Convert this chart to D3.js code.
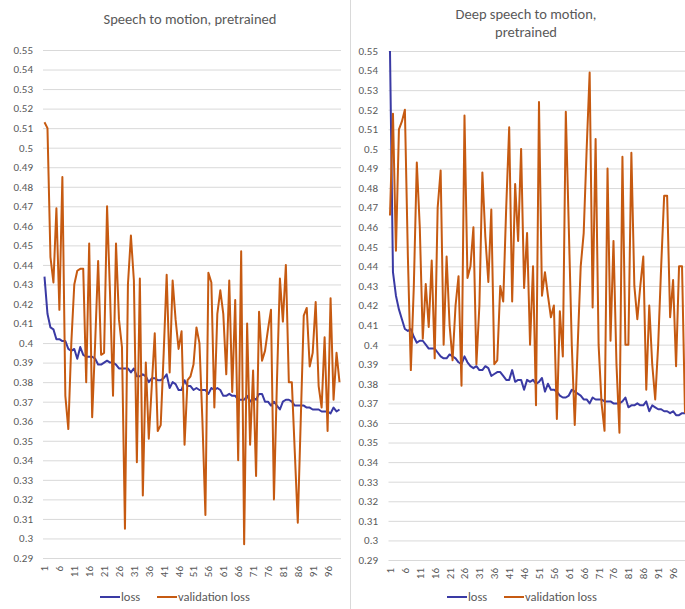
<!DOCTYPE html>
<html>
<head>
<meta charset="utf-8">
<script src="https://cdn.jsdelivr.net/npm/d3@7"></script>
<style>
  body { margin: 0; background: #fff; }
  svg { display: block; font-family: Calibri, Lato, "Open Sans", sans-serif; }
  .grid line { stroke: #d9d9d9; stroke-width: 1; }
  .tick-label { fill: #595959; font-size: 11px; }
  .title { fill: #595959; font-size: 14.5px; }
  .legend text { fill: #595959; font-size: 12.5px; }
</style>
</head>
<body>
<div id="chart"></div>
<script>
'use strict';

// epochs on the category axis
const epochs = d3.range(1, 101);
const xTickLabels = [1, 6, 11, 16, 21, 26, 31, 36, 41, 46, 51, 56, 61, 66, 71, 76, 81, 86, 91, 96];
const yTicks = [0.29, 0.3, 0.31, 0.32, 0.33, 0.34, 0.35, 0.36, 0.37, 0.38, 0.39, 0.4, 0.41,
  0.42, 0.43, 0.44, 0.45, 0.46, 0.47, 0.48, 0.49, 0.5, 0.51, 0.52, 0.53, 0.54, 0.55];

const seriesNames = ['loss', 'validation loss'];
const colors = ['#3a3aa4', '#c65a11'];

// Speech to motion, pretrained
const lossA = [
  0.434, 0.415, 0.408, 0.407, 0.402, 0.402, 0.401, 0.401, 0.397, 0.396,
  0.397, 0.392, 0.398, 0.394, 0.393, 0.393, 0.393, 0.392, 0.389, 0.389,
  0.390, 0.391, 0.390, 0.390, 0.389, 0.387, 0.387, 0.387, 0.387, 0.385,
  0.387, 0.383, 0.383, 0.384, 0.383, 0.380, 0.382, 0.382, 0.381, 0.381,
  0.382, 0.384, 0.377, 0.380, 0.379, 0.376, 0.376, 0.381, 0.378, 0.378,
  0.376, 0.377, 0.376, 0.376, 0.376, 0.374, 0.377, 0.376, 0.377, 0.376,
  0.373, 0.373, 0.374, 0.373, 0.373, 0.371, 0.371, 0.371, 0.373, 0.370,
  0.372, 0.371, 0.374, 0.374, 0.370, 0.370, 0.368, 0.370, 0.368, 0.366,
  0.370, 0.371, 0.371, 0.370, 0.368, 0.368, 0.368, 0.368, 0.367, 0.367,
  0.366, 0.366, 0.366, 0.365, 0.365, 0.365, 0.364, 0.367, 0.365, 0.366
];
const valA = [
  0.513, 0.510, 0.444, 0.431, 0.469, 0.417, 0.485, 0.373, 0.356, 0.400,
  0.430, 0.437, 0.438, 0.438, 0.380, 0.451, 0.362, 0.400, 0.442, 0.394,
  0.395, 0.470, 0.425, 0.373, 0.451, 0.412, 0.398, 0.305, 0.430, 0.455,
  0.432, 0.339, 0.433, 0.322, 0.390, 0.351, 0.378, 0.405, 0.355, 0.358,
  0.395, 0.435, 0.385, 0.432, 0.412, 0.397, 0.406, 0.348, 0.381, 0.383,
  0.389, 0.408, 0.400, 0.360, 0.312, 0.436, 0.431, 0.367, 0.415, 0.427,
  0.415, 0.384, 0.432, 0.375, 0.422, 0.340, 0.447, 0.297, 0.410, 0.348,
  0.386, 0.332, 0.416, 0.391, 0.396, 0.407, 0.417, 0.320, 0.380, 0.433,
  0.411, 0.440, 0.380, 0.380, 0.344, 0.308, 0.361, 0.414, 0.418, 0.388,
  0.395, 0.421, 0.378, 0.367, 0.403, 0.355, 0.423, 0.371, 0.395, 0.380
];

// Deep speech to motion, pretrained
const lossB = [
  0.550, 0.437, 0.425, 0.418, 0.413, 0.408, 0.407, 0.408, 0.404, 0.401,
  0.402, 0.402, 0.400, 0.398, 0.398, 0.398, 0.396, 0.394, 0.393, 0.393,
  0.395, 0.394, 0.393, 0.391, 0.390, 0.394, 0.391, 0.389, 0.388, 0.389,
  0.387, 0.387, 0.389, 0.388, 0.384, 0.385, 0.386, 0.386, 0.384, 0.382,
  0.382, 0.387, 0.381, 0.382, 0.382, 0.377, 0.382, 0.381, 0.382, 0.380,
  0.381, 0.383, 0.376, 0.380, 0.377, 0.377, 0.376, 0.374, 0.373, 0.373,
  0.374, 0.377, 0.376, 0.375, 0.374, 0.372, 0.372, 0.370, 0.373, 0.372,
  0.372, 0.372, 0.371, 0.371, 0.371, 0.370, 0.370, 0.370, 0.371, 0.373,
  0.368, 0.369, 0.369, 0.370, 0.369, 0.369, 0.371, 0.366, 0.369, 0.368,
  0.367, 0.367, 0.366, 0.366, 0.365, 0.366, 0.364, 0.364, 0.365, 0.365
];
const valB = [
  0.466, 0.518, 0.448, 0.510, 0.514, 0.520, 0.445, 0.387, 0.430, 0.493,
  0.460, 0.403, 0.431, 0.409, 0.443, 0.393, 0.470, 0.489, 0.400, 0.445,
  0.410, 0.392, 0.420, 0.435, 0.379, 0.517, 0.434, 0.440, 0.460, 0.390,
  0.420, 0.488, 0.455, 0.432, 0.469, 0.390, 0.392, 0.430, 0.422, 0.470,
  0.511, 0.422, 0.482, 0.453, 0.500, 0.429, 0.457, 0.400, 0.440, 0.369,
  0.524, 0.425, 0.437, 0.425, 0.414, 0.420, 0.362, 0.417, 0.394, 0.519,
  0.460, 0.400, 0.359, 0.400, 0.440, 0.457, 0.500, 0.539, 0.419, 0.505,
  0.400, 0.370, 0.356, 0.490, 0.402, 0.453, 0.390, 0.355, 0.496, 0.400,
  0.400, 0.498, 0.430, 0.413, 0.430, 0.445, 0.377, 0.420, 0.390, 0.372,
  0.400, 0.440, 0.476, 0.476, 0.414, 0.433, 0.389, 0.440, 0.440, 0.365
];

const panels = [
  { title: ['Speech to motion, pretrained'], titleX: 190, titleY: [24],
    left: 43, right: 341, top: 50, bottom: 558, labelX: 33, legendX: 100,
    series: [lossA, valA] },
  { title: ['Deep speech to motion,', 'pretrained'], titleX: 526, titleY: [19, 37],
    left: 388.5, right: 686.5, top: 51, bottom: 560, labelX: 378, legendX: 447,
    series: [lossB, valB] }
];

const width = 685, height = 609;

const svg = d3.select('#chart').append('svg')
  .attr('width', width)
  .attr('height', height);

// divider between the two charts
svg.append('line')
  .attr('x1', 350.5).attr('x2', 350.5)
  .attr('y1', 0).attr('y2', height)
  .attr('stroke', '#d9d9d9');

panels.forEach(function(p) {
  const g = svg.append('g');

  const x = d3.scalePoint().domain(epochs).range([p.left, p.right]).padding(0.5);
  const y = d3.scaleLinear().domain([0.29, 0.55]).range([p.bottom, p.top]);

  // title
  p.title.forEach((t, i) => {
    g.append('text').attr('class', 'title')
      .attr('x', p.titleX).attr('y', p.titleY[i])
      .attr('text-anchor', 'middle')
      .text(t);
  });

  // gridlines
  const yAxis = d3.axisLeft(y).tickValues(yTicks).tickSize(-(p.right - p.left)).tickFormat('');
  g.append('g')
    .attr('class', 'grid')
    .attr('transform', 'translate(' + p.left + ',0)')
    .call(yAxis)
    .call(s => s.select('.domain').remove());

  // y labels
  g.selectAll('text.ylab').data(yTicks).enter()
    .append('text')
    .attr('class', 'tick-label ylab')
    .attr('x', p.labelX)
    .attr('y', d => y(d))
    .attr('dy', '0.35em')
    .attr('text-anchor', 'end')
    .text(d => String(+d.toFixed(2)));

  // x labels, rotated
  g.selectAll('text.xlab').data(xTickLabels).enter()
    .append('text')
    .attr('class', 'tick-label xlab')
    .attr('text-anchor', 'end')
    .attr('transform', d => 'translate(' + (x(d) + 4) + ',' + (p.bottom + 8) + ') rotate(-90)')
    .text(d => d);

  // lines
  const line = d3.line()
    .x((d, i) => x(epochs[i]))
    .y(d => y(Math.min(d, 0.55)));

  p.series.forEach((vals, k) => {
    g.append('path')
      .datum(vals)
      .attr('fill', 'none')
      .attr('stroke', colors[k])
      .attr('stroke-width', 2)
      .attr('stroke-linejoin', 'round')
      .attr('d', line);
  });

  // legend
  const leg = g.append('g').attr('class', 'legend')
    .attr('transform', 'translate(' + p.legendX + ',597)');
  leg.append('line').attr('x1', 0).attr('x2', 20).attr('y1', 0).attr('y2', 0)
    .attr('stroke', colors[0]).attr('stroke-width', 2);
  leg.append('text').attr('x', 21).attr('y', 0).attr('dy', '0.35em').text(seriesNames[0]);
  leg.append('line').attr('x1', 57).attr('x2', 77).attr('y1', 0).attr('y2', 0)
    .attr('stroke', colors[1]).attr('stroke-width', 2);
  leg.append('text').attr('x', 78).attr('y', 0).attr('dy', '0.35em').text(seriesNames[1]);
});
</script>
</body>
</html>
